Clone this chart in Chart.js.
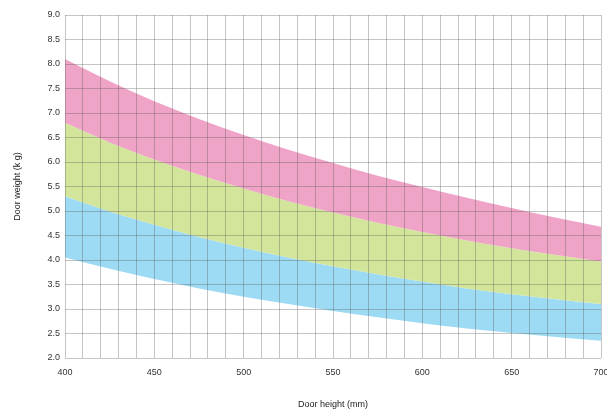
<!DOCTYPE html>
<html>
<head>
<meta charset="utf-8">
<script src="https://cdn.jsdelivr.net/npm/chart.js@4"></script>
<style>
  html, body { margin: 0; padding: 0; background: #fff; }
  #wrap { width: 607px; height: 410px; position: relative; }
</style>
</head>
<body>
<div id="wrap"><canvas id="chart"></canvas></div>
<script>
// door height (mm) sample positions
const heights = [400, 425, 450, 475, 500, 525, 550, 575, 600, 625, 650, 675, 700];
// band edges (kg)
const pinkTop = [8.1, 7.65, 7.24, 6.88, 6.55, 6.25, 5.98, 5.72, 5.49, 5.27, 5.06, 4.86, 4.68];
const pinkBottom = [6.8, 6.4, 6.05, 5.74, 5.46, 5.2, 4.97, 4.76, 4.57, 4.4, 4.24, 4.1, 3.97];
const greenBottom = [5.3, 4.99, 4.72, 4.47, 4.25, 4.05, 3.87, 3.71, 3.56, 3.42, 3.3, 3.2, 3.1];
const blueBottom = [4.05, 3.82, 3.61, 3.42, 3.25, 3.1, 2.96, 2.83, 2.71, 2.6, 2.51, 2.43, 2.35];
const xTickLabels = { 400: '400', 450: '450', 500: '500', 550: '550', 600: '600', 650: '650', 700: '700' };

const toPoints = (ys) => heights.map((h, i) => ({ x: h, y: ys[i] }));

function band(label, ys, color, fill) {
    return {
        label: label,
        data: toPoints(ys),
        borderWidth: 0,
        borderColor: color,
        backgroundColor: color,
        pointRadius: 0,
        cubicInterpolationMode: 'monotone',
        fill: fill
    };
}

const gridColor = 'rgba(90, 90, 90, 0.35)';
const tickFont = { family: 'Liberation Sans', size: 9 };

new Chart(document.getElementById('chart'), {
    type: 'line',
    data: {
        datasets: [
            band('pink', pinkTop, '#efa3c7', '+1'),
            band('green', pinkBottom, '#d3e59b', '+1'),
            band('blue', greenBottom, '#9ddbf4', '+1'),
            band('base', blueBottom, 'rgba(0,0,0,0)', false)
        ]
    },
    options: {
        responsive: true,
        maintainAspectRatio: false,
        animation: false,
        layout: { padding: { top: 15, right: 6, left: 12, bottom: 0 } },
        plugins: { legend: { display: false }, tooltip: { enabled: false } },
        scales: {
            x: {
                type: 'linear',
                min: 400,
                max: 700,
                grid: { color: gridColor, z: 1, drawTicks: false },
                border: { display: false },
                ticks: {
                    stepSize: 10,
                    autoSkip: false,
                    maxRotation: 0,
                    padding: 9,
                    color: '#333',
                    font: tickFont,
                    callback: (v) => xTickLabels[v] || ''
                },
                title: {
                    display: true,
                    text: 'Door height (mm)',
                    color: '#222',
                    font: { family: 'Liberation Sans', size: 9 },
                    padding: { top: 15, bottom: 0 }
                },
                afterFit: (scale) => {
                    scale.height = 52;
                    scale.paddingRight = 0;
                }
            },
            y: {
                min: 2,
                max: 9,
                grid: { color: gridColor, z: 1, drawTicks: false },
                border: { display: false },
                ticks: {
                    stepSize: 0.5,
                    padding: 5,
                    color: '#333',
                    font: tickFont,
                    callback: (v) => v.toFixed(1)
                },
                title: {
                    display: true,
                    text: 'Door weight (k g)',
                    color: '#222',
                    font: { family: 'Liberation Sans', size: 9 },
                    padding: { top: 0, bottom: 8 }
                },
                afterFit: (scale) => { scale.width = 53; }
            }
        }
    }
});
</script>
</body>
</html>
